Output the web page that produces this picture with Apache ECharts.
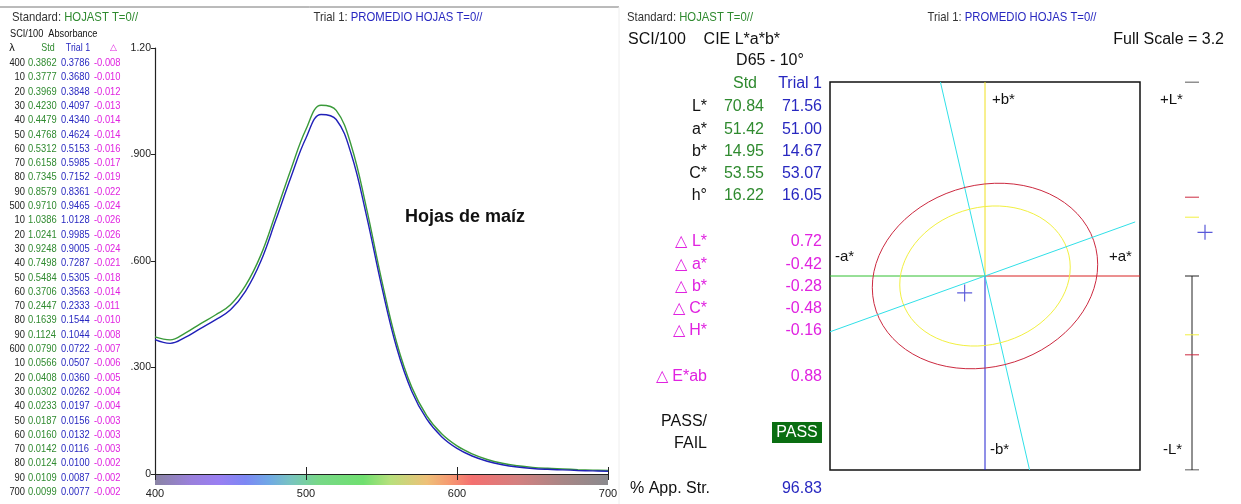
<!DOCTYPE html>
<html>
<head>
<meta charset="utf-8">
<script src="https://cdn.jsdelivr.net/npm/echarts@6.0.0/dist/echarts.min.js"></script>
<style>
html, body { margin: 0; padding: 0; background: #fff; }
#chart { width: 1241px; height: 504px; }
</style>
</head>
<body>
<div id="chart"></div>
<script>
// spectral data (absorbance, SCI/100)
const wavelengths = [400, 410, 420, 430, 440, 450, 460, 470, 480, 490, 500, 510, 520, 530, 540, 550, 560, 570, 580, 590, 600, 610, 620, 630, 640, 650, 660, 670, 680, 690, 700];
const stdAbs = [0.3862, 0.3777, 0.3969, 0.4230, 0.4479, 0.4768, 0.5312, 0.6158, 0.7345, 0.8579, 0.9710, 1.0386, 1.0241, 0.9248, 0.7498, 0.5484, 0.3706, 0.2447, 0.1639, 0.1124, 0.0790, 0.0566, 0.0408, 0.0302, 0.0233, 0.0187, 0.0160, 0.0142, 0.0124, 0.0109, 0.0099];
const trialAbs = [0.3786, 0.3680, 0.3848, 0.4097, 0.4340, 0.4624, 0.5153, 0.5985, 0.7152, 0.8361, 0.9465, 1.0128, 0.9985, 0.9005, 0.7287, 0.5305, 0.3563, 0.2333, 0.1544, 0.1044, 0.0722, 0.0507, 0.0360, 0.0262, 0.0197, 0.0156, 0.0132, 0.0116, 0.0100, 0.0087, 0.0077];
const deltaAbs = ["-0.008", "-0.010", "-0.012", "-0.013", "-0.014", "-0.014", "-0.016", "-0.017", "-0.019", "-0.022", "-0.024", "-0.026", "-0.026", "-0.024", "-0.021", "-0.018", "-0.014", "-0.011", "-0.010", "-0.008", "-0.007", "-0.006", "-0.005", "-0.004", "-0.004", "-0.003", "-0.003", "-0.003", "-0.002", "-0.002", "-0.002"];
const yTickLabels = {"0": "0", "0.3": ".300", "0.6": ".600", "0.9": ".900", "1.2": "1.20"};

// CIE L*a*b* data
const labNames = ["L*", "a*", "b*", "C*", "h°"];
const labStd = ["70.84", "51.42", "14.95", "53.55", "16.22"];
const labTrial = ["71.56", "51.00", "14.67", "53.07", "16.05"];
const diffNames = ["△ L*", "△ a*", "△ b*", "△ C*", "△ H*"];
const diffValues = ["0.72", "-0.42", "-0.28", "-0.48", "-0.16"];
const deltaE = "0.88";
const appStrength = "96.83";
const fullScale = 3.2;
const trialDa = -0.42;
const trialDb = -0.28;
const trialDL = 0.72;
const hueAngle = 16.05;
const redTol = [2.34, 1.51];     // semi axes in a/b plane
const yellowTol = [1.77, 1.14];
const tolTilt = 8;
const redTolL = 1.30;
const yellowTolL = 0.97;

const sans = '"Liberation Sans", Arial, sans-serif';
const GREEN = "#2f8a2f", BLUE = "#2828c0", MAGENTA = "#e022e0";

const chart = echarts.init(document.getElementById("chart"));

function ellipse(ax, tilt) {
    var pts = [];
    var r = tilt * Math.PI / 180;
    for (var t = 0; t <= 360; t += 5) {
        var a = t * Math.PI / 180;
        var x = ax[0] * Math.cos(a), y = ax[1] * Math.sin(a);
        pts.push([x * Math.cos(r) - y * Math.sin(r), x * Math.sin(r) + y * Math.cos(r)]);
    }
    return pts;
}

function seg(pts, color, xi, yi, width) {
    return {
        type: "line", xAxisIndex: xi, yAxisIndex: yi, data: pts,
        symbol: "none", silent: true, z: 3,
        lineStyle: {color: color, width: width || 1}
    };
}

function cross(x, y, xi, yi, w, h) {
    return {
        type: "scatter", xAxisIndex: xi, yAxisIndex: yi, data: [[x, y]], z: 6,
        symbol: "path://M0,50L100,50M50,0L50,100", symbolSize: [w, h],
        itemStyle: {color: "none", borderColor: "#3030d0", borderWidth: 1.2}
    };
}

function txt(x, y, text, opt) {
    opt = opt || {};
    return {
        type: "text", x: x, y: y, z: 20, silent: true, scaleX: opt.sx || 1,
        style: {
            text: text, fill: opt.color || "#111",
            font: (opt.weight || "normal") + " " + (opt.size || 16) + "px " + sans,
            align: opt.align || "left", verticalAlign: "middle", rich: opt.rich
        }
    };
}

var hueSlope = Math.tan(hueAngle * Math.PI / 180);

var series = [
    {
        name: "Std", type: "line", xAxisIndex: 0, yAxisIndex: 0, smooth: 0.4, symbol: "none",
        data: wavelengths.map((w, i) => [w, stdAbs[i]]),
        lineStyle: {color: "#3a9a3a", width: 1.4}
    },
    {
        name: "Trial 1", type: "line", xAxisIndex: 0, yAxisIndex: 0, smooth: 0.4, symbol: "none",
        data: wavelengths.map((w, i) => [w, trialAbs[i]]),
        lineStyle: {color: "#2020b8", width: 1.4}
    },
    // a*b* plane
    seg([[0, 0], [0, fullScale]], "#f0e020", 2, 1),
    seg([[0, 0], [0, -fullScale]], "#2020d0", 2, 1),
    seg([[-fullScale, 0], [0, 0]], "#30c030", 2, 1),
    seg([[0, 0], [fullScale, 0]], "#d82020", 2, 1),
    seg([[-fullScale * hueSlope, fullScale], [fullScale * hueSlope, -fullScale]], "#30e0e8", 2, 1),
    {
        type: "line", xAxisIndex: 2, yAxisIndex: 1, data: [], silent: true,
        markLine: {
            silent: true, symbol: ["none", "arrow"], symbolSize: [0, 9], label: {show: false},
            lineStyle: {color: "#30e0e8", width: 1, type: "solid"},
            data: [[{coord: [-fullScale, -fullScale * hueSlope]}, {coord: [3.1, 3.1 * hueSlope]}]]
        }
    },
    seg(ellipse(redTol, tolTilt), "#cc2a40", 2, 1),
    seg(ellipse(yellowTol, tolTilt), "#f2f040", 2, 1),
    cross(trialDa, trialDb, 2, 1, 15, 17),
    // L* bar
    seg([[0, 0], [0, -fullScale]], "#222", 3, 2),
    seg([[-0.35, fullScale], [0.35, fullScale]], "#222", 3, 2),
    seg([[-0.35, 0], [0.35, 0]], "#222", 3, 2),
    seg([[-0.35, -fullScale], [0.35, -fullScale]], "#222", 3, 2),
    seg([[-0.35, redTolL], [0.35, redTolL]], "#cc2a40", 3, 2),
    seg([[-0.35, -redTolL], [0.35, -redTolL]], "#cc2a40", 3, 2),
    seg([[-0.35, yellowTolL], [0.35, yellowTolL]], "#f2f040", 3, 2),
    seg([[-0.35, -yellowTolL], [0.35, -yellowTolL]], "#f2f040", 3, 2),
    cross(0.65, trialDL, 3, 2, 15, 15)
];

var hidden = {show: false};
chart.setOption({
    animation: false,
    backgroundColor: "#fff",
    grid: [
        {left: 155, top: 48, width: 453, height: 426},
        {left: 830, top: 82, width: 310, height: 388, show: true, borderColor: "#111", borderWidth: 1.5},
        {left: 1172, top: 82, width: 40, height: 388}
    ],
    xAxis: [
        {
            gridIndex: 0, type: "value", position: "bottom", min: 400, max: 700, interval: 100, z: 10,
            axisLine: {lineStyle: {color: "#222", width: 1.2}},
            axisTick: {inside: true, length: 7, lineStyle: {color: "#222"}},
            axisLabel: {margin: 14, fontSize: 11, fontFamily: sans, color: "#222"},
            splitLine: hidden
        },
        {
            gridIndex: 0, type: "value", position: "bottom", offset: 0, min: 400, max: 700, interval: 100, z: 10,
            axisLine: hidden, axisLabel: hidden, splitLine: hidden,
            axisTick: {length: 6, lineStyle: {color: "#222"}}
        },
        {gridIndex: 1, type: "value", min: -fullScale, max: fullScale, show: false},
        {gridIndex: 2, type: "value", min: -1, max: 1, show: false}
    ],
    yAxis: [
        {
            gridIndex: 0, type: "value", min: 0, max: 1.2, interval: 0.3,
            axisLine: {show: true, lineStyle: {color: "#222", width: 1.2}},
            axisTick: {show: true, length: 4, lineStyle: {color: "#222"}},
            axisLabel: {
                margin: 4, fontSize: 10.5, fontFamily: sans, color: "#222",
                formatter: v => yTickLabels[String(Math.round(v * 10) / 10)]
            },
            splitLine: hidden
        },
        {gridIndex: 1, type: "value", min: -fullScale, max: fullScale, show: false},
        {gridIndex: 2, type: "value", min: -fullScale, max: fullScale, show: false}
    ],
    series: series
});

// texts and spectrum strip
var g = [];
var p0 = chart.convertToPixel({gridIndex: 0}, [400, 0]);
var p1 = chart.convertToPixel({gridIndex: 0}, [700, 0]);
g.push({
    type: "rect", z: 1, silent: true,
    shape: {x: p0[0], y: p0[1], width: p1[0] - p0[0], height: 11},
    style: {
        fill: new echarts.graphic.LinearGradient(0, 0, 1, 0, [
            {offset: 0, color: "#8a84a4"}, {offset: 0.08, color: "#9a80dc"},
            {offset: 0.14, color: "#9a7ff2"}, {offset: 0.2, color: "#7d88f4"},
            {offset: 0.25, color: "#70a8e6"}, {offset: 0.3, color: "#78c4c0"},
            {offset: 0.36, color: "#78d888"}, {offset: 0.46, color: "#70e070"},
            {offset: 0.52, color: "#b8e07c"}, {offset: 0.6, color: "#eec078"},
            {offset: 0.65, color: "#f69a72"}, {offset: 0.7, color: "#f47070"},
            {offset: 0.8, color: "#d48080"}, {offset: 0.9, color: "#a88686"},
            {offset: 1, color: "#8a8a8e"}
        ])
    }
});
g.push({type: "line", silent: true, z: 1, shape: {x1: 0, y1: 7, x2: 619, y2: 7}, style: {stroke: "#777", lineWidth: 1}});
g.push({type: "line", silent: true, z: 1, shape: {x1: 619, y1: 7, x2: 619, y2: 504}, style: {stroke: "#eee", lineWidth: 1}});

var headRich = {a: {fill: "#333", font: "13px " + sans}, g: {fill: GREEN, font: "13px " + sans}, b: {fill: BLUE, font: "13px " + sans}};

// left panel
g.push(txt(12, 17, "{a|Standard: }{g|HOJAST T=0//}", {rich: headRich, sx: 0.87}));
g.push(txt(398, 17, "{a|Trial 1: }{b|PROMEDIO HOJAS T=0//}", {align: "center", rich: headRich, sx: 0.87}));
g.push(txt(10, 34, "SCI/100  Absorbance", {size: 10, sx: 0.92}));
g.push(txt(12, 48, "λ", {size: 11, align: "center"}));
g.push(txt(48, 48, "Std", {size: 10.5, color: GREEN, align: "center", sx: 0.85}));
g.push(txt(78, 48, "Trial 1", {size: 10.5, color: BLUE, align: "center", sx: 0.85}));
g.push(txt(113, 48, "△", {size: 9, color: MAGENTA, align: "center"}));
wavelengths.forEach(function (w, i) {
    var y = 63 + i * 14.3;
    var lam = (w % 100 === 0) ? String(w) : String(w % 100);
    g.push(txt(25, y, lam, {size: 11, color: "#222", align: "right", sx: 0.85}));
    g.push(txt(28, y, stdAbs[i].toFixed(4), {size: 11, color: GREEN, sx: 0.85}));
    g.push(txt(61, y, trialAbs[i].toFixed(4), {size: 11, color: BLUE, sx: 0.85}));
    g.push(txt(94, y, deltaAbs[i], {size: 11, color: MAGENTA, sx: 0.85}));
});
g.push(txt(465, 217, "Hojas de maíz", {size: 18, weight: "bold", align: "center"}));

// right panel
g.push(txt(627, 17, "{a|Standard: }{g|HOJAST T=0//}", {rich: headRich, sx: 0.87}));
g.push(txt(1012, 17, "{a|Trial 1: }{b|PROMEDIO HOJAS T=0//}", {align: "center", rich: headRich, sx: 0.87}));
g.push(txt(628, 40, "SCI/100    CIE L*a*b*"));
g.push(txt(1224, 40, "Full Scale = " + fullScale, {align: "right"}));
g.push(txt(770, 61, "D65 - 10°", {align: "center"}));
g.push(txt(745, 84, "Std", {color: GREEN, align: "center"}));
g.push(txt(822, 84, "Trial 1", {color: BLUE, align: "right"}));
labNames.forEach(function (n, i) {
    var y = 107 + i * 22.2;
    g.push(txt(707, y, n, {align: "right"}));
    g.push(txt(764, y, labStd[i], {color: GREEN, align: "right"}));
    g.push(txt(822, y, labTrial[i], {color: BLUE, align: "right"}));
});
diffNames.forEach(function (n, i) {
    var y = 242 + i * 22.2;
    g.push(txt(707, y, n, {color: MAGENTA, align: "right"}));
    g.push(txt(822, y, diffValues[i], {color: MAGENTA, align: "right"}));
});
g.push(txt(707, 377, "△ E*ab", {color: MAGENTA, align: "right"}));
g.push(txt(822, 377, deltaE, {color: MAGENTA, align: "right"}));
g.push(txt(707, 422, "PASS/", {align: "right"}));
g.push(txt(707, 444, "FAIL", {align: "right"}));
g.push({type: "rect", z: 19, silent: true, shape: {x: 772, y: 422, width: 50, height: 21}, style: {fill: "#0a6e12"}});
g.push(txt(797, 433, "PASS", {color: "#fff", align: "center"}));
g.push(txt(630, 489, "% App. Str."));
g.push(txt(822, 489, appStrength, {color: BLUE, align: "right"}));

g.push(txt(992, 100, "+b*", {size: 15}));
g.push(txt(990, 450, "-b*", {size: 15}));
g.push(txt(835, 257, "-a*", {size: 15}));
g.push(txt(1109, 257, "+a*", {size: 15}));
g.push(txt(1160, 100, "+L*", {size: 15}));
g.push(txt(1163, 450, "-L*", {size: 15}));

chart.setOption({graphic: {elements: g}});
</script>
</body>
</html>
